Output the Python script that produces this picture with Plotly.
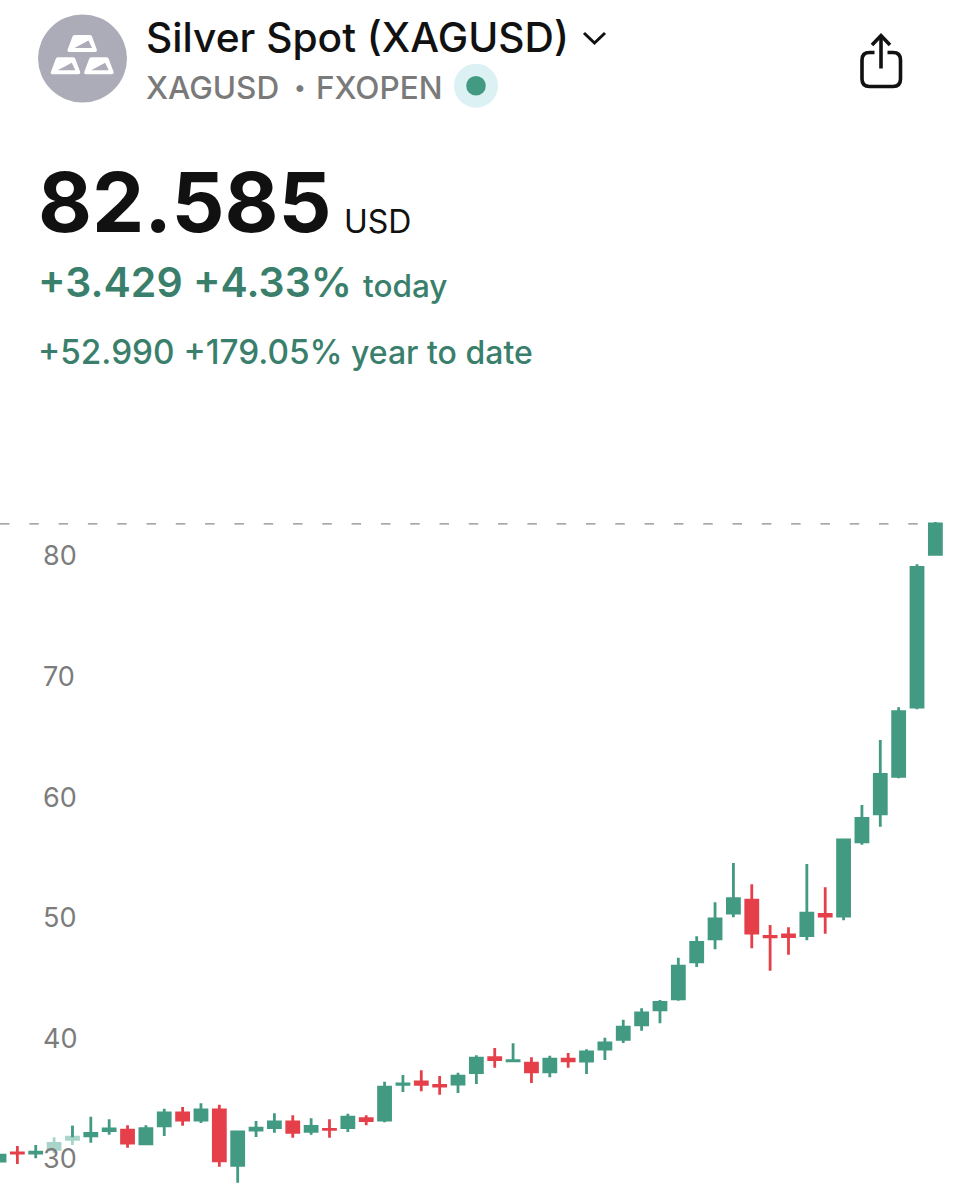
import plotly.graph_objects as go

W = 953
H = 1200

# weekly candles
opens = [29.75, 30.42, 30.41, 30.71, 31.54, 31.84, 32.28, 32.30, 31.18, 32.67,
         33.74, 33.15, 33.98, 29.38, 32.32, 32.53, 32.99, 32.20, 32.38, 32.53,
         33.27, 33.15, 36.10, 36.31, 36.01, 36.13, 37.09, 38.33, 38.05, 37.86,
         37.15, 38.19, 38.04, 39.03, 39.83, 41.05, 42.29, 43.20, 46.27, 48.18,
         50.31, 51.37, 48.38, 48.50, 48.45, 50.19, 50.06, 56.22, 58.54, 61.64,
         67.39, 80.05]
highs = [30.33, 31.00, 31.08, 31.72, 32.68, 33.42, 33.21, 32.71, 32.71, 34.09,
         34.23, 34.54, 34.42, 32.26, 33.07, 33.71, 33.54, 33.29, 33.21, 33.67,
         33.54, 36.33, 36.88, 37.27, 36.80, 37.07, 38.52, 39.12, 39.51, 38.35,
         38.48, 38.71, 39.01, 39.98, 41.47, 42.41, 43.10, 46.61, 48.38, 51.20,
         54.46, 52.69, 49.32, 49.13, 54.38, 52.45, 56.48, 59.27, 64.66, 67.37,
         79.23, 82.74]
lows = [29.64, 29.50, 29.98, 30.41, 31.08, 31.27, 31.93, 30.85, 31.08, 31.82,
        32.68, 32.90, 29.28, 27.95, 31.74, 32.10, 31.68, 31.93, 31.68, 32.16,
        32.71, 32.96, 35.47, 35.53, 35.25, 35.39, 36.14, 37.49, 37.99, 36.22,
        36.69, 37.49, 36.97, 38.13, 39.54, 40.56, 41.17, 43.04, 45.84, 47.31,
        49.96, 47.39, 45.53, 46.86, 48.05, 48.60, 49.71, 55.98, 57.47, 61.49,
        67.21, 79.96]
closes = [30.23, 30.40, 30.48, 31.20, 31.72, 32.03, 32.41, 31.24, 32.44, 33.74,
          33.15, 33.98, 29.77, 32.16, 32.47, 32.99, 32.12, 32.61, 32.37, 33.38,
          33.11, 35.87, 36.14, 36.10, 35.96, 36.78, 38.27, 38.15, 38.08, 37.15,
          38.19, 38.06, 38.79, 39.54, 40.84, 42.03, 42.91, 45.90, 47.87, 49.82,
          51.51, 48.65, 48.33, 48.35, 50.30, 50.06, 56.37, 58.15, 61.80, 67.02,
          78.98, 82.585]
tick_vals = [30, 40, 50, 60, 70, 80]
last_price = 82.585

# candles washed out by the pale box behind the "30" label
faded = [3, 4]

GREEN = "#429a82"
RED = "#e5404a"
PALE = "#a9d4c9"
TEXT_GREEN = "#3a7f6c"
GREY = "#7a7a7a"
INK = "#111111"
FONT = "Inter"


def px(x):
    return x / W


def py(y):
    return 1 - y / H


def pth(spec):
    # svg path written in screen pixels -> paper coordinates
    out = []
    is_x = True
    for tok in spec.split():
        if tok.isalpha():
            out.append(tok)
        elif is_x:
            out.append(f"{px(float(tok)):.5f}")
            is_x = False
        else:
            out.append(f"{py(float(tok)):.5f}")
            is_x = True
    return " ".join(out)


def path_shape(spec, fill=None, line=None, width=0):
    return dict(type="path", xref="paper", yref="paper", path=pth(spec),
                fillcolor=fill or "rgba(0,0,0,0)",
                line=dict(color=line or "rgba(0,0,0,0)", width=width))


def circle(cx, cy, rx, ry, fill):
    return dict(type="circle", xref="paper", yref="paper",
                x0=px(cx - rx), x1=px(cx + rx), y0=py(cy + ry), y1=py(cy - ry),
                fillcolor=fill, line=dict(width=0))


def ingot(dx, dy):
    outer = (f"M {74.5 + dx} {35 + dy} L {90 + dx} {35 + dy} Q {91.5 + dx} {35 + dy} {92 + dx} {36.5 + dy} "
             f"L {97 + dx} {50 + dy} Q {97 + dx} {52 + dy} {95 + dx} {52 + dy} L {69 + dx} {52 + dy} "
             f"Q {67 + dx} {52 + dy} {67.5 + dx} {50 + dy} L {72.5 + dx} {36.5 + dy} Q {73 + dx} {35 + dy} {74.5 + dx} {35 + dy} Z")
    facet = f"M {74.5 + dx} {48 + dy} L {88.5 + dx} {40.5 + dy} L {92 + dx} {48 + dy} Z"
    return [path_shape(outer, fill="white"), path_shape(facet, fill="#acabb8")]


def label(x, y, text, size, color, weight=400):
    return dict(xref="paper", yref="paper", x=px(x), y=py(y), xanchor="left", yanchor="middle",
                text=text, showarrow=False, borderpad=0,
                font=dict(family=FONT, size=size, color=color, weight=weight))


index = list(range(len(opens)))
solid = [i for i in index if i not in faded]


def pick(values, keep):
    return [values[i] for i in keep]


fig = go.Figure()
fig.add_trace(go.Candlestick(
    x=solid, open=pick(opens, solid), high=pick(highs, solid), low=pick(lows, solid), close=pick(closes, solid),
    increasing=dict(fillcolor=GREEN, line=dict(color=GREEN, width=2.8)),
    decreasing=dict(fillcolor=RED, line=dict(color=RED, width=2.8)),
    hoverinfo="skip",
))
fig.add_trace(go.Candlestick(
    x=faded, open=pick(opens, faded), high=pick(highs, faded), low=pick(lows, faded), close=pick(closes, faded),
    increasing=dict(fillcolor=PALE, line=dict(color=PALE, width=2.8)),
    decreasing=dict(fillcolor=PALE, line=dict(color=PALE, width=2.8)),
    hoverinfo="skip",
))
# upper wick of candle 4 sticks out above the pale box
fig.add_trace(go.Scatter(x=[4, 4], y=[closes[4], highs[4]], mode="lines",
                         line=dict(color=GREEN, width=2.8), hoverinfo="skip"))

shapes = [
    dict(type="line", xref="paper", yref="y", x0=0, x1=px(930), y0=last_price, y1=last_price,
         line=dict(color="#8a8a8a", width=1.3, dash="9.5px,19.8px"), layer="below"),
    circle(82.5, 58.5, 44.5, 44, "#acabb8"),
    circle(476, 85.7, 22, 22, "#dcf1f4"),
    circle(476, 85.7, 9.8, 9.8, GREEN),
    path_shape("M 584 33 L 594.5 43 L 605 33", line="#111111", width=3),
    # share icon
    path_shape("M 874.5 52.5 L 869.5 52.5 Q 862 52.5 862 60 L 862 79 Q 862 86.5 869.5 86.5 "
               "L 893 86.5 Q 900.5 86.5 900.5 79 L 900.5 60 Q 900.5 52.5 893 52.5 L 887.5 52.5",
               line="#111111", width=3.6),
    path_shape("M 881 68.5 L 881 36", line="#111111", width=3.6),
    path_shape("M 872 45 L 881 35.5 L 890 45", line="#111111", width=3.6),
]
shapes += ingot(0, 0) + ingot(-16.7, 22.3) + ingot(16.7, 22.3)

annotations = [
    label(145, 38, "Silver Spot (XAGUSD)", 40.7, INK, 500),
    label(145, 87, "XAGUSD", 31.5, GREY, 500),
    label(292.5, 87, "•", 22, GREY, 500),
    label(315, 87, "FXOPEN", 31.5, GREY, 500),
    label(37, 202, "82.585", 83, INK, 700),
    label(343, 221, "USD", 32, INK, 400),
    label(37, 282, "+3.429 +4.33%", 41, TEXT_GREEN, 600),
    label(361.5, 286, "today", 31.5, TEXT_GREEN, 500),
    label(36.5, 352, "+52.990 +179.05%", 33.3, TEXT_GREEN, 500),
    label(350, 352, "year to date", 32, TEXT_GREEN, 500),
]

fig.update_layout(
    width=W,
    height=H,
    margin=dict(l=0, r=0, t=0, b=0),
    paper_bgcolor="white",
    plot_bgcolor="white",
    showlegend=False,
    boxmode="overlay",
    boxgap=0.346,
    boxgroupgap=0,
    shapes=shapes,
    annotations=annotations,
    xaxis=dict(visible=False, range=[0.054, 51.96], rangeslider=dict(visible=False)),
    yaxis=dict(
        range=[26.517, 126.02],
        tickmode="array",
        tickvals=tick_vals,
        ticktext=[str(v) for v in tick_vals],
        ticks="",
        ticklabelposition="inside",
        ticklabelstandoff=40,
        ticklabelshift=1,
        tickfont=dict(family=FONT, size=27, color="#7c7c7c"),
        showgrid=False,
        zeroline=False,
        showline=False,
    ),
)

fig.write_html("out.html", config={"displayModeBar": False},
               post_script="document.body.style.margin='0';")
